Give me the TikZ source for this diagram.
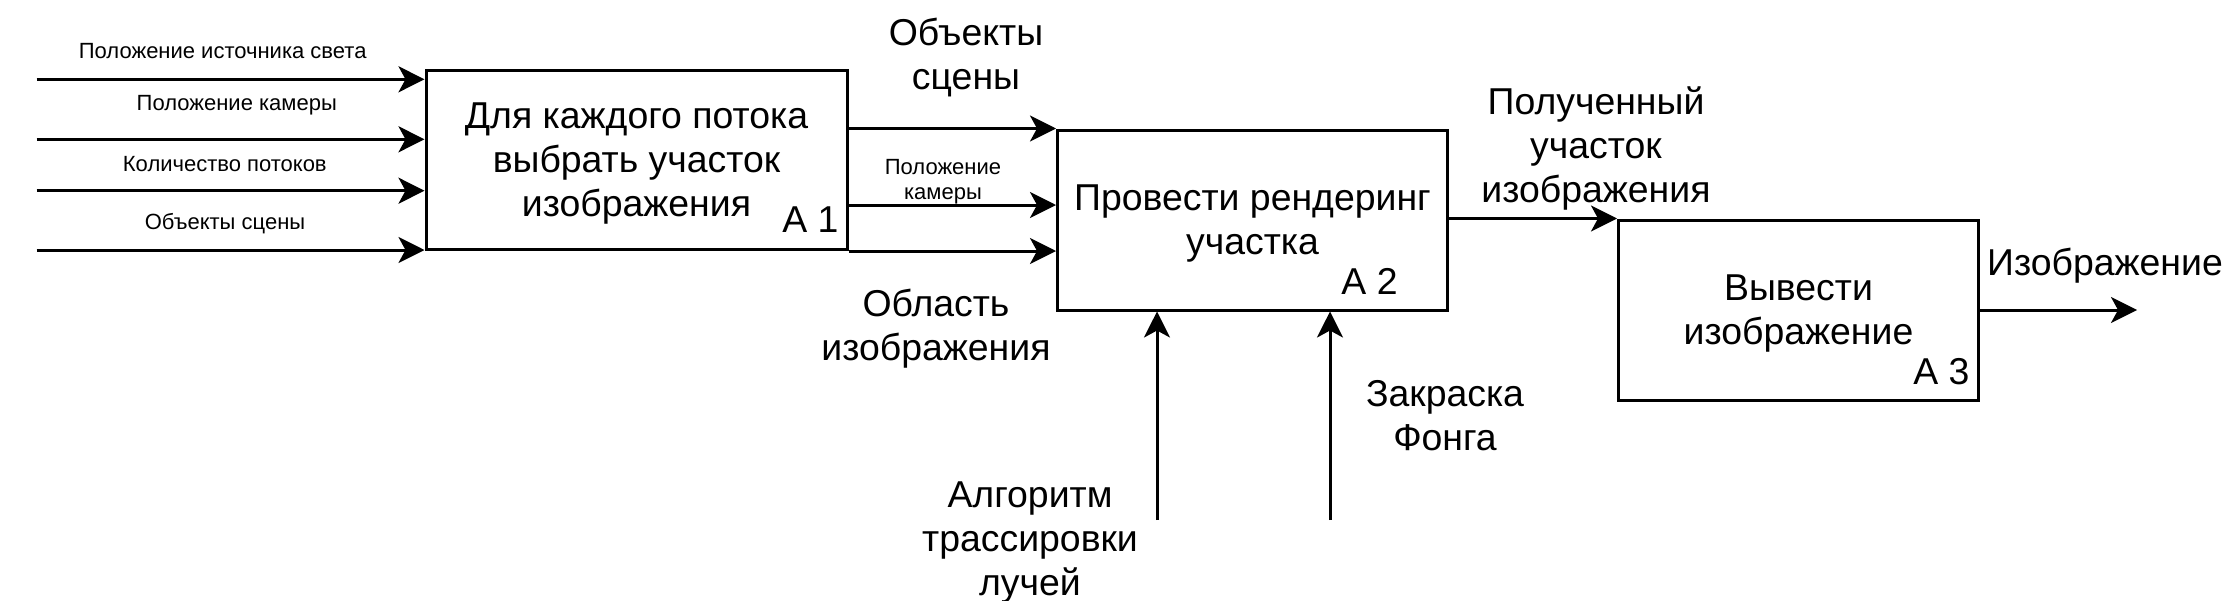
\documentclass[tikz,border=0pt]{standalone}
\usepackage{fontspec}
\setmainfont{Liberation Sans}
\usetikzlibrary{arrows.meta,positioning}

\begin{document}
\begin{tikzpicture}[
    x=0.5pt, y=-0.5pt,
    block/.style={rectangle, draw=black, line width=1.5pt, align=center, text depth=0pt, font=\fontsize{18.7}{22}\selectfont},
    tag/.style={inner sep=0pt, font=\fontsize{18.7}{22}\selectfont},
    big/.style={align=center, inner sep=0pt, font=\fontsize{18.7}{22}\selectfont},
    small/.style={align=center, inner sep=0pt, font=\fontsize{11}{12.5}\selectfont},
    arr/.style={-{Stealth[length=13pt, width=13pt, inset=3.5pt]}, line width=1.5pt}
]
\useasboundingbox (0,0) rectangle (2226,600);

\node[block, minimum width=210.5pt, minimum height=89.75pt] (select) at (636.5,159.75) {Для каждого потока\\выбрать участок\\изображения};
\node[block, minimum width=195pt, minimum height=90pt] (render) at (1252.5,220) {Провести рендеринг\\участка};
\node[block, minimum width=180pt, minimum height=90pt] (output) at (1798.5,310) {Вывести\\изображение};

\node[tag] (selectid) at ([shift={(-38,-31.5)}]select.south east) {A 1};
\node[tag] (renderid) at ([shift={(-79.5,-30)}]render.south east) {A 2};
\node[tag] (outputid) at ([shift={(-38.6,-30)}]output.south east) {A 3};

% inputs of A1
\coordinate (in1) at (36.5,79.3);
\coordinate (in2) at (36.5,139.3);
\coordinate (in3) at (36.5,190.7);
\coordinate (in4) at (36.5,250);
\draw[arr] (in1) -- (in1 -| select.west);
\draw[arr] (in2) -- (in2 -| select.west);
\draw[arr] (in3) -- (in3 -| select.west);
\draw[arr] (in4) -- (in4 -| select.west);

\node[small] (lightpos) at (222.7,50.7) {Положение источника света};
\node[small] (campos) at (236.8,105) {Положение камеры};
\node[small] (threads) at (224.8,164.3) {Количество потоков};
\node[small] (objects) at (225,224) {Объекты сцены};

% A1 -> A2
\draw[arr] (select.east |- render.north west) -- (render.north west);
\draw[arr] (select.east |- 0,205) -- (render.west |- 0,205);
\draw[arr] (select.south east) -- (render.west |- select.south east);

\node[big] (sceneobj) at (966,58) {Объекты\\сцены};
\node[small] (camera) at (943,182) {Положение\\камеры};
\node[big] (region) at (936,329) {Область\\изображения};

% A2 -> A3
\draw[arr] (render.east |- output.north west) -- (output.north west);
\node[big] (part) at (1596,148) {Полученный\\участок\\изображения};

% output
\coordinate (out) at (2137,310);
\draw[arr] (output.east |- out) -- (out);
\node[big] (image) at (2105,266) {Изображение};

% controls of A2
\coordinate (ctl1) at (1157,520);
\coordinate (ctl2) at (1330,520);
\draw[arr] (ctl1) -- (ctl1 |- render.south);
\draw[arr] (ctl2) -- (ctl2 |- render.south);
\node[big] (raytrace) at (1030,543) {Алгоритм\\трассировки\\лучей};
\node[big] (phong) at (1445,416) {Закраска\\Фонга};
\end{tikzpicture}
\end{document}
